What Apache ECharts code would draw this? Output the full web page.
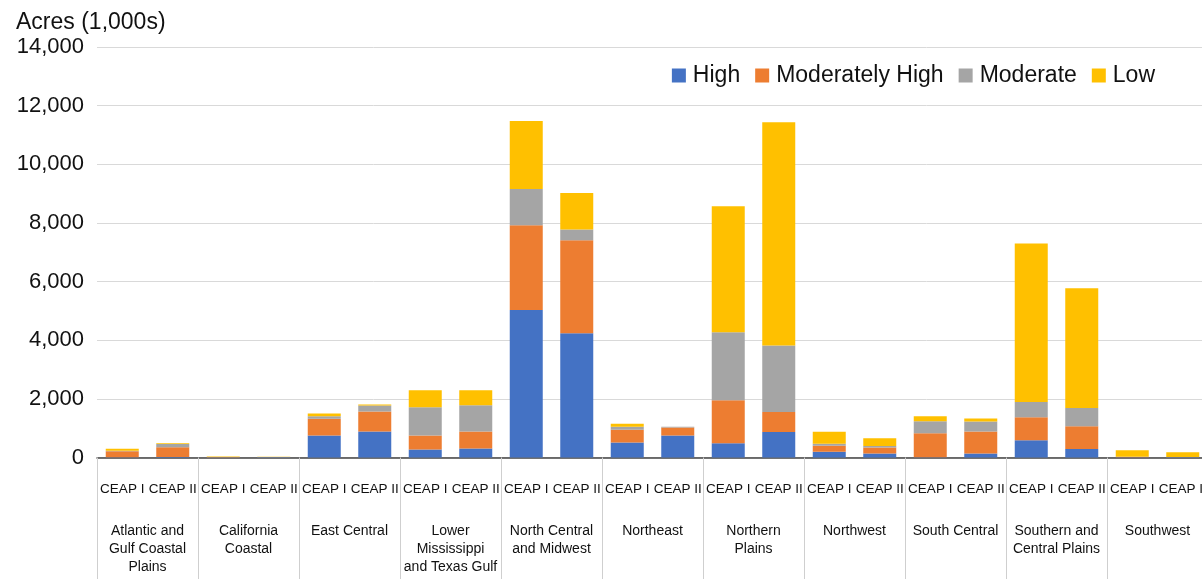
<!DOCTYPE html>
<html>
<head>
<meta charset="utf-8">
<script src="https://cdn.jsdelivr.net/npm/echarts@6/dist/echarts.min.js"></script>
<style>
  html, body { margin: 0; padding: 0; background: #fff; }
  #chart { width: 1202px; height: 579px; }
</style>
</head>
<body>
<div id="chart"></div>
<script>
// two bars per region
const periods = ['CEAP I', 'CEAP II']
const regions = [
  'Atlantic and\nGulf Coastal\nPlains', 'California\nCoastal', 'East Central',
  'Lower\nMississippi\nand Texas Gulf', 'North Central\nand Midwest', 'Northeast',
  'Northern\nPlains', 'Northwest', 'South Central', 'Southern and\nCentral Plains', 'Southwest'
]
const yTicks = [0, 2000, 4000, 6000, 8000, 10000, 12000, 14000]

// acres (1,000s), CEAP I / CEAP II per region
const high = [10, 20, 0, 5, 750, 890, 270, 310, 5030, 4240, 510, 750, 490, 870, 200, 140, 10, 140, 590, 290, 5, 5]
const modHigh = [200, 330, 10, 5, 570, 680, 480, 580, 2890, 3170, 440, 270, 1460, 680, 200, 200, 820, 750, 780, 780, 10, 5]
const moderate = [20, 110, 5, 10, 90, 200, 960, 890, 1240, 370, 100, 30, 2320, 2270, 70, 50, 410, 340, 520, 620, 10, 10]
const low = [70, 30, 15, 5, 90, 40, 580, 510, 2320, 1240, 100, 0, 4300, 7610, 410, 270, 170, 100, 5410, 4080, 220, 160]

const cats = []
regions.forEach(() => periods.forEach(p => cats.push(p)))

const chart = echarts.init(document.getElementById('chart'))
const font = 'Liberation Sans, Arial, sans-serif'

function bar (name, data, color) {
  return {
    name: name,
    type: 'bar',
    stack: 'total',
    data: data,
    barWidth: 33,
    itemStyle: { color: color },
    xAxisIndex: 0
  }
}

chart.setOption({
  animation: false,
  textStyle: { fontFamily: font },
  title: {
    text: 'Acres (1,000s)',
    left: 11,
    top: 6,
    textStyle: { fontSize: 23, fontWeight: 'normal', color: '#111', fontFamily: font }
  },
  legend: {
    right: 42,
    top: 59,
    itemWidth: 14,
    itemHeight: 14,
    itemGap: 15,
    icon: 'rect',
    textStyle: { fontSize: 23, color: '#111', fontFamily: font, padding: [0, 0, 0, 2] },
    data: ['High', 'Moderately High', 'Moderate', 'Low']
  },
  // plot runs past the right edge of the picture, as in the original
  grid: { left: 97, width: 1111, top: 47, bottom: 121.5, outerBoundsMode: 'none' },
  xAxis: [
    {
      type: 'category',
      data: cats,
      axisLine: { show: true, lineStyle: { color: '#444', width: 1.5 } },
      axisTick: { show: false },
      axisLabel: { interval: 0, margin: 25, fontSize: 13.5, color: '#111', fontFamily: font }
    },
    {
      type: 'category',
      data: regions,
      position: 'bottom',
      axisLine: { show: false },
      axisTick: { show: true, interval: 0, length: 125, lineStyle: { color: '#cfcfcf' } },
      axisLabel: { interval: 0, margin: 65, fontSize: 14, lineHeight: 18, color: '#111', fontFamily: font }
    }
  ],
  yAxis: {
    type: 'value',
    min: 0,
    max: 14000,
    interval: 2000,
    axisLine: { show: false },
    axisTick: { show: false },
    splitLine: { lineStyle: { color: '#d9d9d9', width: 1 } },
    axisLabel: {
      margin: 13,
      fontSize: 22,
      color: '#111',
      fontFamily: font,
      customValues: yTicks,
      formatter: v => v.toLocaleString('en-US')
    }
  },
  series: [
    bar('High', high, '#4472C4'),
    bar('Moderately High', modHigh, '#ED7D31'),
    bar('Moderate', moderate, '#A5A5A5'),
    bar('Low', low, '#FFC000')
  ]
})
</script>
</body>
</html>
